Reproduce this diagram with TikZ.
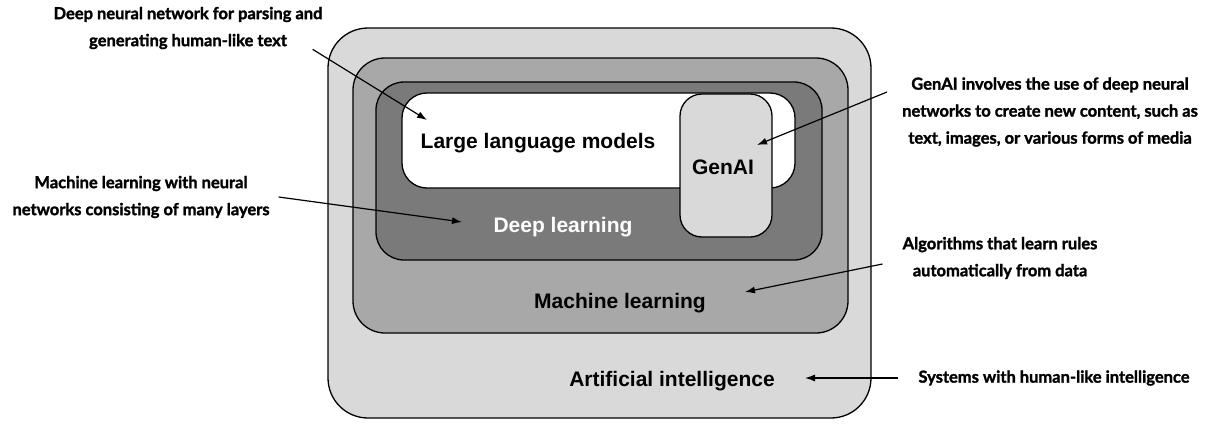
\documentclass[tikz,border=0pt]{standalone}
\usepackage{fontspec}
\setmainfont{Liberation Sans}
\newfontfamily\notefont{Lato}[BoldFeatures={FakeBold=1.6}]
\usetikzlibrary{arrows.meta}

\definecolor{aigray}{gray}{0.85}
\definecolor{mlgray}{gray}{0.66}
\definecolor{dlgray}{gray}{0.48}
\definecolor{gengray}{gray}{0.85}

\tikzset{
  layer/.style={draw=black, line width=1.3pt},
  layerlabel/.style={font=\fontsize{21}{25}\selectfont\bfseries, inner sep=0pt},
  note/.style={font=\notefont\fontsize{16.5}{27}\selectfont\bfseries, align=center, inner sep=0pt},
  pointer/.style={-{Latex[length=10pt,width=7pt]}, line width=1.2pt},
}

\begin{document}
\begin{tikzpicture}[x=1pt,y=-1pt]
\useasboundingbox (0,0) rectangle (1207,423);

% nested layers, outside in
\filldraw[layer, fill=aigray, rounded corners=40pt] (328,28) rectangle (871,418);
\filldraw[layer, fill=mlgray, rounded corners=32pt] (353,58) rectangle (848,333);
\filldraw[layer, fill=dlgray, rounded corners=28pt] (376,82) rectangle (822,260);
\filldraw[layer, fill=white, rounded corners=25pt] (402,93) rectangle (795,188);
\filldraw[layer, fill=gengray, rounded corners=22pt] (680,94) rectangle (772,237);

\node[layerlabel] (llm) at (538,143) {Large language models};
\node[layerlabel] (genai) at (723,167) {GenAI};
\node[layerlabel, text=white] (dl) at (563,227) {Deep learning};
\node[layerlabel] (ml) at (620,303) {Machine learning};
\node[layerlabel] (ai) at (672,381) {Artificial intelligence};

% where the pointers land
\coordinate (llmtip) at (427,120);
\coordinate (dltip) at (462,222);
\coordinate (gentip) at (757,145);
\coordinate (mltip) at (745,292);
\coordinate (aitip) at (805,378);

% notes
\node[note] (notellm) at (188,28) {Deep neural network for parsing and\\generating human-like text};
\node[note] (notedl) at (141,197) {Machine learning with neural\\networks consisting of many layers};
\node[note] (notegen) at (1050,112) {GenAI involves the use of deep neural\\networks to create new content, such as\\text, images, or various forms of media};
\node[note] (noteml) at (1000,258) {Algorithms that learn rules\\automatically from data};
\node[note] (noteai) at (1054,378) {Systems with human-like intelligence};

\draw[pointer] ([xshift=-10pt]notellm.south east) -- (llmtip);
\draw[pointer] ([xshift=9pt]notedl.east) -- (dltip);
\draw[pointer] ([shift={(-15pt,20pt)}]notegen.west) -- (gentip);
\draw[pointer] ([shift={(-20pt,-6pt)}]noteml.west) -- (mltip);
\draw[pointer] ([xshift=-20pt]noteai.west) -- (aitip);
\end{tikzpicture}
\end{document}
